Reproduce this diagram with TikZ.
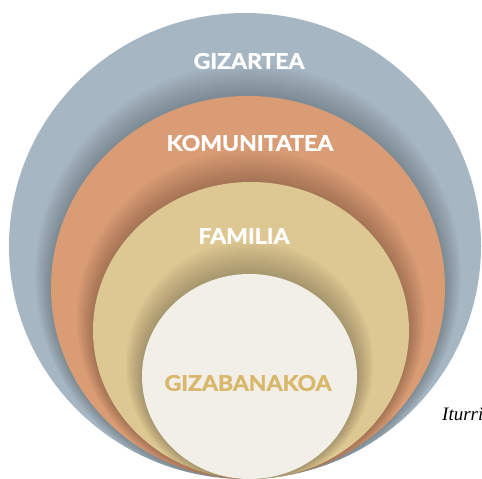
\documentclass[tikz,border=0pt]{standalone}
\usepackage{fontspec}
\setmainfont{Liberation Serif}
\newfontfamily\labelfont[BoldFeatures={FakeBold=1.6,FakeStretch=1.07}]{Lato}
\usetikzlibrary{positioning,shapes.geometric}

\definecolor{gizblue}{HTML}{A6B7C3}
\definecolor{komorange}{HTML}{DA9C74}
\definecolor{famtan}{HTML}{DDC792}
\definecolor{gizcream}{HTML}{F2EEE8}
\definecolor{gizgold}{HTML}{D9B86C}

\begin{document}
\begin{tikzpicture}[x=1pt,y=-1pt,
        ring/.style={ellipse,inner sep=0pt,draw=none},
        lbl/.style={font=\labelfont\bfseries\fontsize{21.5}{21.5}\selectfont,text=white},
        glow/.style={fill=black,fill opacity=0.022}
    ]
    \useasboundingbox (0,0) rectangle (482,479);

    % society
    \node (gizartea) [ring,fill=gizblue,minimum width=472pt,minimum height=466pt] at (245,246) {};

    % community, with its shadow on the outer ring
    \begin{scope}
        \clip (245,246) ellipse [x radius=236, y radius=233];
        \foreach \i in {1,...,10}
            \fill[glow] (248,287.5-1.2*\i) ellipse [x radius=197+1.6*\i, y radius=191.5+2*\i];
    \end{scope}
    \node (komunitatea) [ring,fill=komorange,minimum width=394pt,minimum height=383pt] at (248,287.5) {};

    % family
    \begin{scope}
        \clip (248,287.5) ellipse [x radius=197, y radius=191.5];
        \foreach \i in {1,...,10}
            \fill[glow] (251,330.5-1.2*\i) ellipse [x radius=158+1.6*\i, y radius=148.5+2*\i];
    \end{scope}
    \node (familia) [ring,fill=famtan,minimum width=316pt,minimum height=297pt] at (251,330.5) {};

    % individual
    \begin{scope}
        \clip (251,330.5) ellipse [x radius=158, y radius=148.5];
        \foreach \i in {1,...,10}
            \fill[glow] (249.5,376.5-1.2*\i) ellipse [x radius=107.5+1.6*\i, y radius=102.5+2*\i];
    \end{scope}
    \node (gizabanakoa) [ring,fill=gizcream,minimum width=215pt,minimum height=205pt] at (249.5,376.5) {};

    \node (gizartealbl) [lbl] at (249,61) {GIZARTEA};
    \node (komunitatealbl) [lbl] at (250,143) {KOMUNITATEA};
    \node (familialbl) [lbl] at (244,236) {FAMILIA};
    \node (gizabanakoalbl) [lbl,text=gizgold] at (248,383) {GIZABANAKOA};

    \node (iturri) [anchor=base west,inner sep=0pt,font=\itshape\fontsize{19}{19}\selectfont] at (442,420) {Iturri};
\end{tikzpicture}
\end{document}
